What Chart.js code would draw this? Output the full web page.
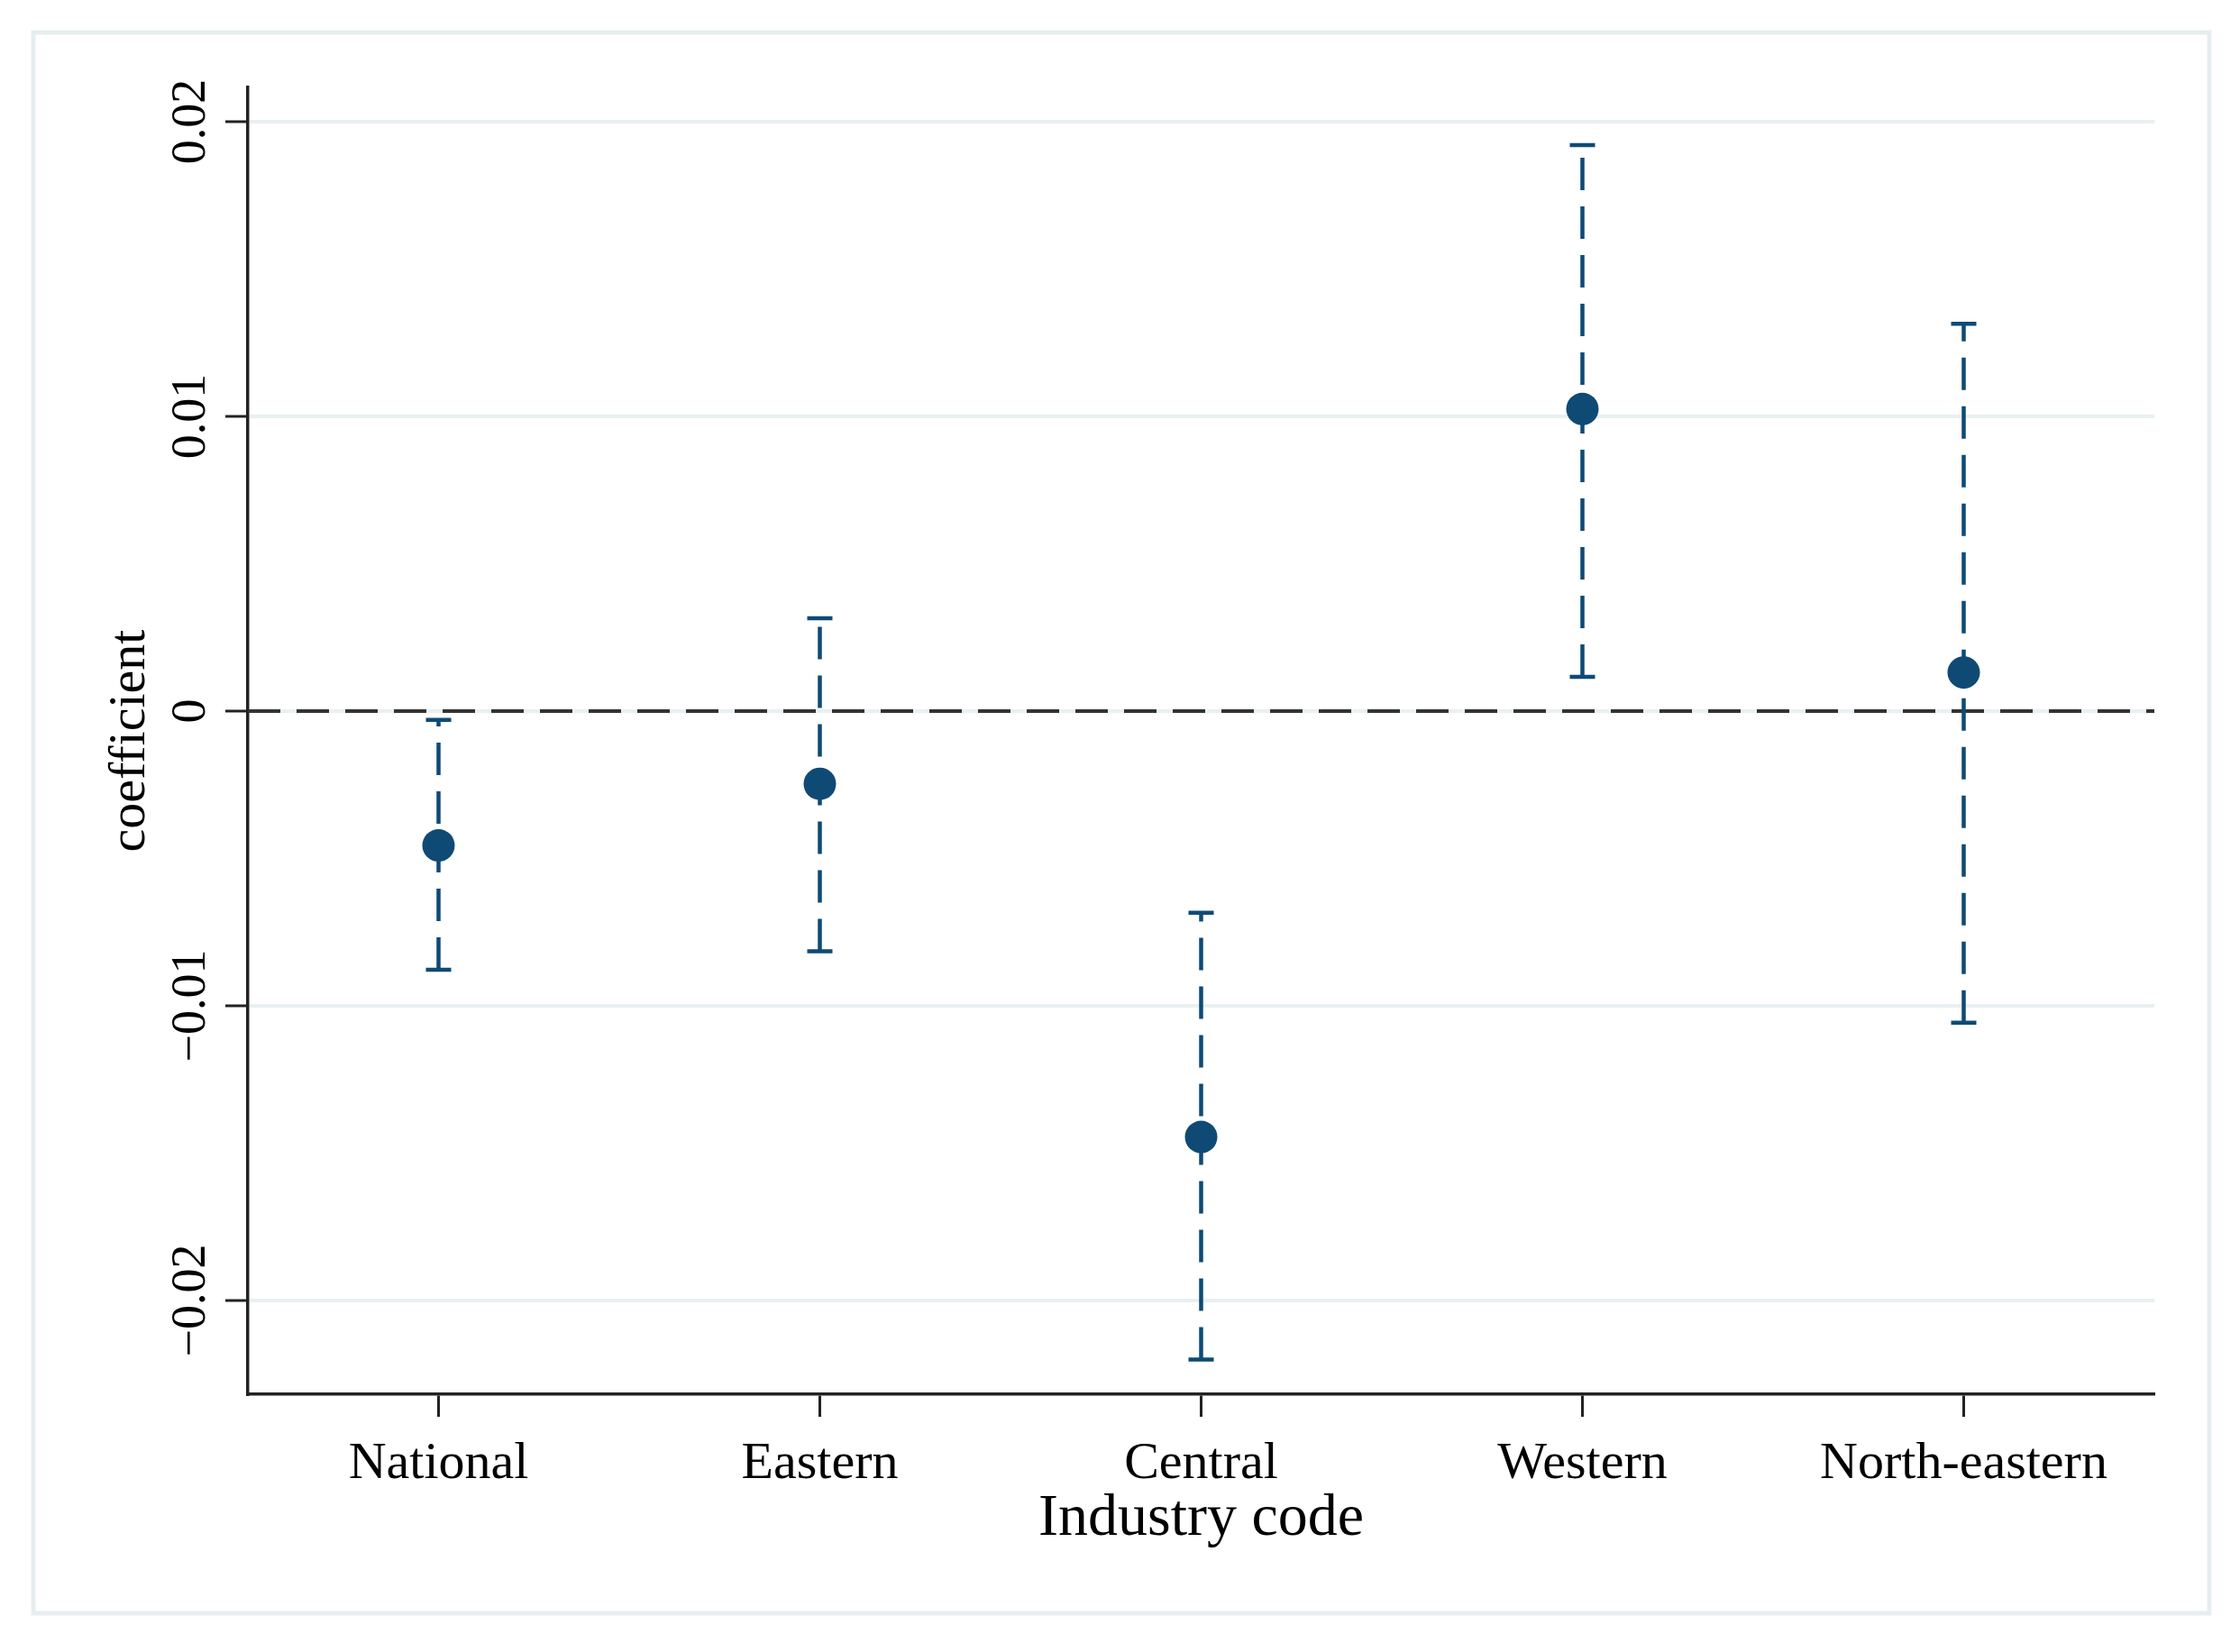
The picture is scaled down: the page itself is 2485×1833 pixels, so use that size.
<!DOCTYPE html>
<html>
<head>
<meta charset="utf-8">
<script src="https://cdn.jsdelivr.net/npm/chart.js@4.4.1/dist/chart.umd.min.js"></script>
<style>
  html, body { margin: 0; padding: 0; background: #fff; }
</style>
</head>
<body>
<canvas id="myChart" width="2485" height="1833"></canvas>
<script>
const regions = ['National', 'Eastern', 'Central', 'Western', 'North-eastern'];
const coef = [-0.00456, -0.00247, -0.01445, 0.01025, 0.00131];
const ciLow = [-0.00878, -0.00815, -0.0220, 0.00116, -0.01057];
const ciHigh = [-0.0003, 0.00315, -0.00684, 0.0192, 0.01314];
const yTicks = [-0.02, -0.01, 0, 0.01, 0.02];
const yTickLabels = ['\u22120.02', '\u22120.01', '0', '0.01', '0.02'];

const navy = '#0f4a75';
const serif = '"Liberation Serif", "DejaVu Serif", serif';

// light frame round the whole graph
const frame = {
  id: 'frame',
  beforeDraw(chart) {
    const c = chart.ctx;
    c.save();
    c.fillStyle = '#fff';
    c.fillRect(0, 0, chart.width, chart.height);
    c.strokeStyle = '#e6eef0';
    c.lineWidth = 5;
    c.strokeRect(37, 36, 2414, 1754);
    c.restore();
  }
};

// dashed zero line and dashed confidence intervals with caps
const ciBars = {
  id: 'ciBars',
  beforeDatasetsDraw(chart) {
    const c = chart.ctx;
    const x = chart.scales.x, y = chart.scales.y;
    const area = chart.chartArea;
    c.save();
    // zero line
    const y0 = y.getPixelForValue(0);
    c.strokeStyle = '#333';
    c.lineWidth = 4;
    c.setLineDash([36, 18]);
    c.beginPath();
    c.moveTo(area.left, y0);
    c.lineTo(area.right, y0);
    c.stroke();
    // intervals
    c.strokeStyle = navy;
    c.lineWidth = 4.5;
    regions.forEach((r, i) => {
      const px = x.getPixelForValue(i);
      const lo = y.getPixelForValue(ciLow[i]);
      const hi = y.getPixelForValue(ciHigh[i]);
      c.setLineDash([36, 18]);
      c.beginPath();
      c.moveTo(px, lo);
      c.lineTo(px, hi);
      c.stroke();
      c.setLineDash([]);
      c.beginPath();
      c.moveTo(px - 14, lo); c.lineTo(px + 14, lo);
      c.moveTo(px - 14, hi); c.lineTo(px + 14, hi);
      c.stroke();
    });
    c.restore();
  }
};

const ctx = document.getElementById('myChart').getContext('2d');

const myChart = new Chart(ctx, {
  type: 'line',
  data: {
    labels: regions,
    datasets: [{
      data: coef,
      showLine: false,
      pointRadius: 18,
      pointBackgroundColor: navy,
      pointBorderColor: navy,
      pointBorderWidth: 0
    }]
  },
  options: {
    responsive: false,
    devicePixelRatio: 1,
    animation: false,
    layout: { padding: { top: 97, right: 95, left: 0, bottom: 0 } },
    plugins: {
      legend: { display: false },
      tooltip: { enabled: false }
    },
    scales: {
      x: {
        type: 'category',
        offset: true,
        afterFit(scale) { scale.height = 286; },
        grid: {
          display: true,
          drawOnChartArea: false,
          drawTicks: true,
          tickLength: 25,
          tickWidth: 3,
          tickColor: '#222',
          offset: false
        },
        border: { display: true, color: '#222', width: 3.5 },
        ticks: {
          color: '#000',
          font: { family: serif, size: 58 },
          padding: 18,
          maxRotation: 0,
          minRotation: 0
        },
        title: {
          display: true,
          text: 'Industry code',
          color: '#000',
          font: { family: serif, size: 66 },
          padding: { top: 0, bottom: 108 }
        }
      },
      y: {
        min: -0.02318,
        max: 0.02116,
        afterFit(scale) { scale.width = 275; },
        afterBuildTicks(scale) {
          scale.ticks = yTicks.map(v => ({ value: v }));
        },
        grid: {
          color: '#e8f0f1',
          lineWidth: 4,
          tickLength: 25,
          tickWidth: 3,
          tickColor: '#222'
        },
        border: { display: true, color: '#222', width: 3.5 },
        ticks: {
          color: '#000',
          font: { family: serif, size: 54 },
          minRotation: 90,
          maxRotation: 90,
          crossAlign: 'center',
          padding: -25,
          callback: (v) => yTickLabels[yTicks.indexOf(v)]
        },
        title: {
          display: true,
          text: 'coefficient',
          color: '#000',
          font: { family: serif, size: 58 },
          padding: { top: 110, bottom: 0 }
        }
      }
    }
  },
  plugins: [frame, ciBars]
});
</script>
</body>
</html>
